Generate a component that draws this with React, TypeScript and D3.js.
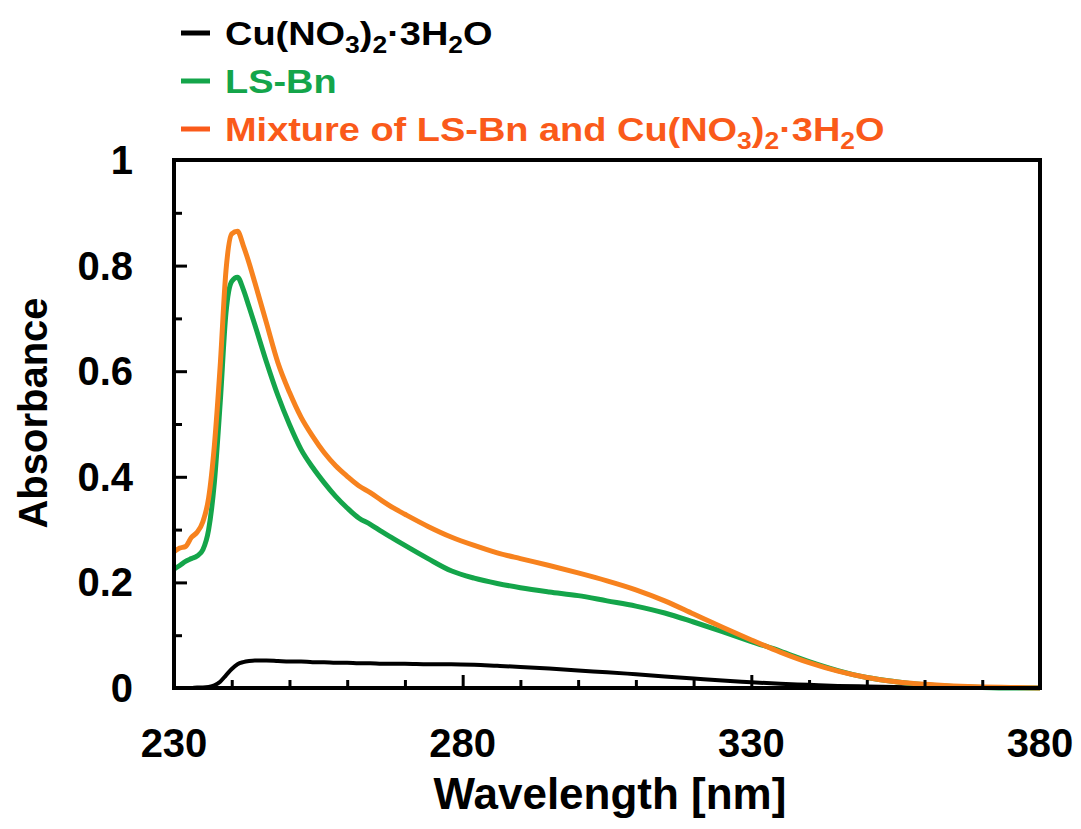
import React, { useRef, useEffect } from "react";
import * as d3 from "d3";

// wavelength grid [nm] shared by all three spectra
const wavelength = [
  230, 231, 232, 233, 234, 235, 236, 237, 238, 239, 240, 241, 242, 243, 244,
  246, 248, 250, 252, 254, 256, 258, 260, 262, 264, 266, 268, 270, 274, 278,
  282, 286, 290, 295, 300, 305, 310, 315, 320, 325, 330, 335, 340, 345, 350,
  355, 360, 365, 370, 375, 380,
];

const copperNitrate = [
  0, 0, 0, 0, 0.001, 0.001, 0.002, 0.005, 0.012, 0.024, 0.036, 0.045, 0.049,
  0.051, 0.052, 0.052, 0.051, 0.05, 0.05, 0.049, 0.049, 0.048, 0.048, 0.047,
  0.047, 0.046, 0.046, 0.046, 0.045, 0.045, 0.044, 0.042, 0.04, 0.037, 0.033,
  0.03, 0.026, 0.022, 0.018, 0.014, 0.011, 0.008, 0.006, 0.004, 0.003, 0.002,
  0.001, 0.001, 0, 0, 0,
];

const lsBn = [
  0.225, 0.232, 0.24, 0.245, 0.25, 0.262, 0.3, 0.39, 0.54, 0.71, 0.77, 0.778,
  0.755, 0.722, 0.688, 0.618, 0.554, 0.499, 0.452, 0.418, 0.389, 0.363, 0.341,
  0.322, 0.31, 0.296, 0.283, 0.27, 0.245, 0.222, 0.208, 0.198, 0.19, 0.182,
  0.175, 0.165, 0.155, 0.142, 0.125, 0.107, 0.088, 0.07, 0.05, 0.033, 0.02,
  0.012, 0.006, 0.003, 0.001, 0, 0,
];

const mixture = [
  0.258, 0.265, 0.268, 0.285, 0.295, 0.315, 0.36, 0.46, 0.61, 0.79, 0.86,
  0.865, 0.838, 0.805, 0.768, 0.692, 0.616, 0.56, 0.513, 0.477, 0.446, 0.421,
  0.401, 0.383, 0.37, 0.355, 0.341, 0.329, 0.306, 0.286, 0.27, 0.256, 0.245,
  0.232, 0.218, 0.203, 0.186, 0.165, 0.14, 0.115, 0.091, 0.068, 0.048, 0.032,
  0.02, 0.012, 0.007, 0.004, 0.002, 0.001, 0,
];

const xTickLabels = [230, 280, 330, 380];
const yTickLabels = [0, 0.2, 0.4, 0.6, 0.8, 1];

// legend text split into [text, isSubscript] pieces
const cuFormula: [string, boolean][] = [
  ["Cu(NO", false], ["3", true], [")", false], ["2", true], ["·3H", false], ["2", true], ["O", false],
];
const legendItems = [
  { parts: cuFormula, color: "#000000" },
  { parts: [["LS-Bn", false]] as [string, boolean][], color: "#14a54a" },
  { parts: [["Mixture of LS-Bn and ", false] as [string, boolean]].concat(cuFormula), color: "#fa5a1a" },
];

const series = [
  { values: copperNitrate, color: "#000000", width: 4 },
  { values: lsBn, color: "#14a54a", width: 5 },
  { values: mixture, color: "#f7821e", width: 5 },
];

function SpectraChart() {
  const svgRef = useRef<SVGSVGElement>(null);

  useEffect(() => {
    const svg = d3.select(svgRef.current);
    svg.selectAll("*").remove();

    const width = 1081;
    const height = 829;
    const margin = { left: 174, right: 1081 - 1040, top: 160, bottom: 829 - 688 };
    const font = "'Liberation Sans', Arial, sans-serif";

    svg.attr("width", width).attr("height", height);

    const x = d3.scaleLinear().domain([230, 380]).range([margin.left, width - margin.right]);
    const y = d3.scaleLinear().domain([0, 1]).range([height - margin.bottom, margin.top]);

    const line = d3
      .line<number>()
      .x((_, i) => x(wavelength[i]))
      .y((d) => y(d))
      .curve(d3.curveMonotoneX);

    const content = svg.append("g");
    series.forEach((s) => {
      content
        .append("path")
        .attr("d", line(s.values))
        .attr("fill", "none")
        .attr("stroke", s.color)
        .attr("stroke-width", s.width)
        .attr("stroke-linejoin", "round");
    });

    const axes = svg.append("g");

    // x ticks, inward
    axes
      .append("g")
      .attr("transform", `translate(0,${height - margin.bottom})`)
      .call(
        d3
          .axisBottom(x)
          .tickValues(d3.range(240, 380, 10))
          .tickSize(-8)
          .tickFormat(() => "")
      )
      .call((g) => g.select(".domain").remove())
      .call((g) => g.selectAll("line").attr("stroke", "#000").attr("stroke-width", 3))
      .call((g) =>
        g.selectAll<SVGLineElement, number>("line").attr("y2", (d) => ((d - 230) % 50 === 0 ? -13 : -8))
      );

    // y ticks, inward
    axes
      .append("g")
      .attr("transform", `translate(${margin.left},0)`)
      .call(
        d3
          .axisLeft(y)
          .tickValues(d3.range(1, 10).map((d) => d / 10))
          .tickSize(-8)
          .tickFormat(() => "")
      )
      .call((g) => g.select(".domain").remove())
      .call((g) => g.selectAll("line").attr("stroke", "#000").attr("stroke-width", 3))
      .call((g) =>
        g
          .selectAll<SVGLineElement, number>("line")
          .attr("x2", (d) => (Math.round(d * 10) % 2 === 0 ? 13 : 8))
      );

    // frame
    axes
      .append("rect")
      .attr("x", margin.left)
      .attr("y", margin.top)
      .attr("width", width - margin.left - margin.right)
      .attr("height", height - margin.top - margin.bottom)
      .attr("fill", "none")
      .attr("stroke", "#000")
      .attr("stroke-width", 4);

    // tick labels
    axes
      .selectAll(".xlab")
      .data(xTickLabels)
      .join("text")
      .attr("x", (d) => x(d))
      .attr("y", 757)
      .attr("text-anchor", "middle")
      .attr("font-family", font)
      .attr("font-weight", "bold")
      .attr("font-size", 40)
      .text((d) => d);

    axes
      .selectAll(".ylab")
      .data(yTickLabels)
      .join("text")
      .attr("x", 133)
      .attr("y", (d) => y(d) + 14)
      .attr("text-anchor", "end")
      .attr("font-family", font)
      .attr("font-weight", "bold")
      .attr("font-size", 40)
      .text((d) => d);

    // axis titles
    axes
      .append("text")
      .attr("x", 610)
      .attr("y", 809)
      .attr("text-anchor", "middle")
      .attr("font-family", font)
      .attr("font-weight", "bold")
      .attr("font-size", 44)
      .text("Wavelength [nm]");

    axes
      .append("text")
      .attr("transform", "translate(47,413) rotate(-90)")
      .attr("text-anchor", "middle")
      .attr("font-family", font)
      .attr("font-weight", "bold")
      .attr("font-size", 40)
      .text("Absorbance");

    // legend (text is a bit wider than tall in the original)
    const legend = svg.append("g");
    legendItems.forEach((item, i) => {
      const baseline = 45 + i * 48;
      legend
        .append("line")
        .attr("x1", 181)
        .attr("x2", 210)
        .attr("y1", baseline - 12)
        .attr("y2", baseline - 12)
        .attr("stroke", item.color)
        .attr("stroke-width", 5);
      const t = legend
        .append("text")
        .attr("transform", `translate(225,${baseline}) scale(1.15,1)`)
        .attr("fill", item.color)
        .attr("font-family", font)
        .attr("font-weight", "bold")
        .attr("font-size", 33);
      let sub = false;
      item.parts.forEach(([txt, isSub]) => {
        const span = t.append("tspan").text(txt);
        if (isSub) span.attr("font-size", 23);
        if (isSub && !sub) span.attr("dy", 8);
        else if (!isSub && sub) span.attr("dy", -8);
        sub = isSub;
      });
    });
  }, []);

  return <svg ref={svgRef} style={{ position: "absolute", left: 0, top: 0 }}></svg>;
}

export default function App() {
  return <SpectraChart />;
}
